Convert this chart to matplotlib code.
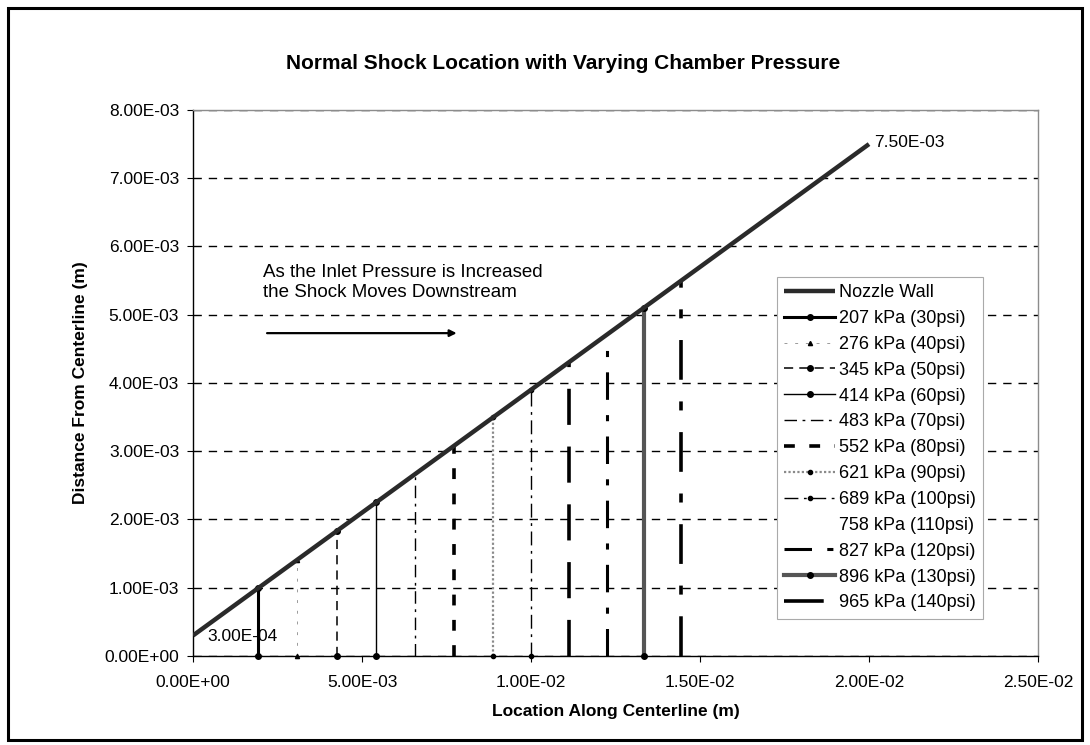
import numpy as np
import matplotlib
matplotlib.use("Agg")
import matplotlib.pyplot as plt
from matplotlib.lines import Line2D
from matplotlib.patches import Rectangle
from matplotlib.ticker import FuncFormatter, MultipleLocator

plt.rcParams["font.family"] = ["Liberation Sans", "DejaVu Sans"]

# nozzle wall (two end points, labelled in the chart)
wall_x = [0.0, 2.0e-2]
wall_y = [3.0e-4, 7.5e-3]

# normal shock positions: vertical line from centerline up to the wall
shock_labels = ["207 kPa (30psi)", "276 kPa (40psi)", "345 kPa (50psi)",
                "414 kPa (60psi)", "483 kPa (70psi)", "552 kPa (80psi)",
                "621 kPa (90psi)", "689 kPa (100psi)", "758 kPa (110psi)",
                "827 kPa (120psi)", "896 kPa (130psi)", "965 kPa (140psi)"]
shock_x = [1.92e-3, 3.08e-3, 4.26e-3, 5.41e-3, 6.57e-3, 7.72e-3,
           8.88e-3, 1.00e-2, 1.112e-2, 1.225e-2, 1.334e-2, 1.444e-2]
shock_top = [1.00e-3, 1.41e-3, 1.83e-3, 2.25e-3, 2.66e-3, 3.08e-3,
             3.50e-3, 3.90e-3, 4.30e-3, 4.71e-3, 5.10e-3, 5.50e-3]

# line styles per series (color, width, dash, marker, marker size)
styles = [
    ("black", 2.2, "-", "o", 4),
    ("#9a9a9a", 0.7, (0, (3, 8)), "^", 3),
    ("black", 1.1, (0, (6, 4)), "o", 4),
    ("black", 1.0, "-", "o", 4),
    ("black", 1.0, (0, (9, 4, 2, 4)), None, 0),
    ("black", 2.6, (0, (3, 4)), None, 0),
    ("#8a8a8a", 1.6, (0, (1, 1)), "o", 3),
    ("black", 1.0, (0, (10, 4, 2, 4)), "o", 3),
    ("black", 2.6, (0, (10, 6)), None, 0),
    ("black", 2.2, (0, (9, 5, 2, 5)), None, 0),
    ("#555555", 3.0, "-", "o", 4),
    ("black", 2.6, (0, (11, 6, 2.5, 6)), None, 0),
]

fig = plt.figure(figsize=(10.9, 7.45), dpi=100)
ax = fig.add_axes([0.1771, 0.1195, 0.7752, 0.7329])

ax.yaxis.grid(True, color="black", linestyle=(0, (6, 5)), linewidth=1.0)
ax.set_axisbelow(True)

handles = []
wall, = ax.plot(wall_x, wall_y, color="#2a2a2a", lw=3.2, solid_capstyle="butt",
                label="Nozzle Wall", zorder=5)
handles.append(wall)

for i, (lab, x, top) in enumerate(zip(shock_labels, shock_x, shock_top)):
    c, lw, ls, mk, ms = styles[i]
    ln, = ax.plot([x, x], [0.0, top], color=c, lw=lw, linestyle=ls,
                  marker=mk if mk else "None", markersize=ms,
                  markerfacecolor="black", markeredgecolor="black",
                  label=lab, zorder=4, clip_on=False)
    if "110psi" in lab:
        handles.append(Line2D([], [], color="none", label=lab))
    else:
        handles.append(ln)

ax.annotate("3.00E-04", (wall_x[0], wall_y[0]), xytext=(10, -1),
            textcoords="offset points", va="center", ha="left", fontsize=12.5)
ax.annotate("7.50E-03", (wall_x[1], wall_y[1]), xytext=(4, 1),
            textcoords="offset points", va="center", ha="left", fontsize=12.5)

ax.text(2.07e-3, 5.47e-3, "As the Inlet Pressure is Increased\nthe Shock Moves Downstream",
        fontsize=13.5, va="center", ha="left", linespacing=1.25)
ax.annotate("", xy=(7.8e-3, 4.73e-3), xytext=(2.19e-3, 4.73e-3),
            arrowprops=dict(arrowstyle="-|>", color="black", lw=1.6,
                            mutation_scale=10, shrinkA=0, shrinkB=0))

ax.set_xlim(0, 0.025)
ax.set_ylim(0, 0.008)
ax.xaxis.set_major_locator(MultipleLocator(0.005))
ax.yaxis.set_major_locator(MultipleLocator(0.001))
fmt = FuncFormatter(lambda v, p: f"{v:.2E}")
ax.xaxis.set_major_formatter(fmt)
ax.yaxis.set_major_formatter(fmt)
ax.tick_params(axis="both", direction="out", length=4, width=0.8,
               labelsize=12.5, pad=6)
ax.tick_params(axis="x", pad=10)

for s in ("top", "right"):
    ax.spines[s].set_color("#8c8c8c")
    ax.spines[s].set_linewidth(1.0)
for s in ("left", "bottom"):
    ax.spines[s].set_color("black")
    ax.spines[s].set_linewidth(1.0)

ax.set_xlabel("Location Along Centerline (m)", fontsize=12.5, fontweight="bold",
              labelpad=10)
ax.set_ylabel("Distance From Centerline (m)", fontsize=12.5, fontweight="bold",
              labelpad=12)
fig.text(0.517, 0.915, "Normal Shock Location with Varying Chamber Pressure",
         ha="center", va="center", fontsize=15, fontweight="bold")

leg = ax.legend(handles=handles, loc="upper left",
                bbox_to_anchor=(777 / 1090, 1 - 277 / 745),
                bbox_transform=fig.transFigure, fontsize=13,
                handlelength=2.8, handletextpad=0.25, labelspacing=0.49,
                borderpad=0.4, borderaxespad=0, fancybox=False,
                framealpha=1, edgecolor="#aaaaaa")
leg.get_frame().set_linewidth(0.8)
leg.set_zorder(10)

fig.patches.append(Rectangle((0.007, 0.007), 0.986, 0.982, transform=fig.transFigure,
                             fill=False, edgecolor="black", lw=2.2))

fig.savefig("out.png", dpi=100)
